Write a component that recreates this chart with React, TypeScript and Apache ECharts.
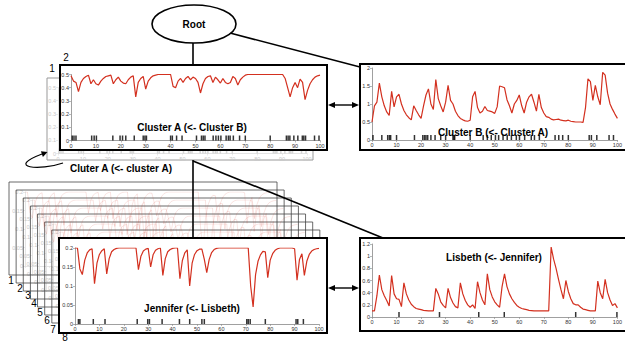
import React, { useEffect, useRef } from 'react';
import * as echarts from 'echarts';

// ---- data (x = 0..100, one value per step) ----
const clusterA = [
  0.49, 0.45, 0.44, 0.37, 0.44, 0.47, 0.485, 0.495, 0.43, 0.46,
  0.43, 0.42, 0.45, 0.47, 0.485, 0.49, 0.495, 0.43, 0.46, 0.48,
  0.45, 0.435, 0.43, 0.46, 0.48, 0.49, 0.33, 0.44, 0.47, 0.485,
  0.39, 0.45, 0.475, 0.49, 0.495, 0.5, 0.5, 0.5, 0.5, 0.5,
  0.5, 0.41, 0.40, 0.45, 0.47, 0.44, 0.47, 0.485, 0.46, 0.48,
  0.47, 0.44, 0.36, 0.43, 0.47, 0.485, 0.49, 0.44, 0.48, 0.46,
  0.435, 0.47, 0.44, 0.43, 0.44, 0.485, 0.47, 0.42, 0.46, 0.48,
  0.495, 0.5, 0.5, 0.5, 0.5, 0.5, 0.5, 0.5, 0.5, 0.5,
  0.5, 0.5, 0.5, 0.5, 0.5, 0.5, 0.47, 0.40, 0.33, 0.40,
  0.44, 0.40, 0.465, 0.44, 0.31, 0.38, 0.43, 0.46, 0.48, 0.49,
  0.495,
];
const clusterB = [
  0.5, 0.95, 1.05, 1.58, 1.2, 0.95, 0.78, 0.68, 1.35, 0.92,
  1.2, 1.27, 1.0, 0.82, 0.7, 0.62, 0.56, 0.95, 0.82, 0.7,
  0.6, 0.95, 1.25, 1.42, 1.0, 0.85, 1.68, 1.15, 0.95, 0.78,
  1.05, 1.52, 1.1, 1.0, 0.8, 0.68, 0.6, 0.56, 0.53, 0.52,
  0.55, 1.2, 1.35, 0.9, 0.75, 0.8, 0.93, 0.82, 0.8, 0.78,
  0.74, 0.92, 1.5, 1.48, 1.45, 1.12, 0.95, 0.75, 1.0, 1.1,
  1.25, 0.95, 0.75, 1.05, 1.2, 1.27, 1.05, 0.8, 1.27, 0.9,
  0.75, 0.65, 0.63, 0.58, 0.56, 0.57, 0.58, 0.55, 0.54, 0.53,
  0.55, 0.52, 0.51, 0.5, 0.5, 0.5, 0.49, 0.9, 1.7, 1.62,
  1.1, 1.52, 1.2, 0.98, 1.88, 1.8, 1.3, 1.0, 0.85, 0.72,
  0.6,
];
const jennifer = [
  0.2, 0.2, 0.145, 0.13, 0.168, 0.187, 0.195, 0.198, 0.106, 0.16,
  0.183, 0.193, 0.198, 0.132, 0.172, 0.19, 0.196, 0.199, 0.2, 0.2,
  0.2, 0.2, 0.2, 0.2, 0.2, 0.2, 0.143, 0.178, 0.192, 0.197,
  0.199, 0.15, 0.182, 0.194, 0.198, 0.2, 0.128, 0.172, 0.19, 0.196,
  0.199, 0.2, 0.2, 0.119, 0.167, 0.187, 0.195, 0.1, 0.16, 0.183,
  0.193, 0.197, 0.197, 0.17, 0.135, 0.17, 0.188, 0.196, 0.199, 0.2,
  0.2, 0.2, 0.2, 0.2, 0.2, 0.2, 0.2, 0.2, 0.2, 0.2,
  0.2, 0.2, 0.1, 0.045, 0.13, 0.165, 0.182, 0.191, 0.19, 0.122,
  0.168, 0.185, 0.194, 0.198, 0.2, 0.2, 0.2, 0.2, 0.2, 0.2,
  0.198, 0.115, 0.17, 0.185, 0.128, 0.165, 0.183, 0.192, 0.196, 0.198,
  0.199,
];
const lisbeth = [
  0.1, 0.1, 0.35, 0.69, 0.45, 0.35, 0.27, 0.18, 0.68, 0.38,
  0.3, 0.29, 0.17, 0.56, 0.38, 0.28, 0.21, 0.17, 0.14, 0.13,
  0.12, 0.11, 0.105, 0.1, 0.1, 0.1, 0.47, 0.38, 0.25, 0.19,
  0.15, 0.47, 0.32, 0.23, 0.17, 0.15, 0.56, 0.38, 0.27, 0.2,
  0.16, 0.2, 0.14, 0.58, 0.4, 0.28, 0.2, 0.71, 0.45, 0.33,
  0.25, 0.2, 0.16, 0.5, 0.71, 0.5, 0.38, 0.3, 0.24, 0.19,
  0.16, 0.14, 0.13, 0.12, 0.11, 0.105, 0.1, 0.1, 0.1, 0.1,
  0.1, 0.1, 0.1, 1.15, 0.95, 0.8, 0.62, 0.45, 0.3, 0.6,
  0.42, 0.3, 0.22, 0.2, 0.2, 0.16, 0.13, 0.12, 0.11, 0.1,
  0.1, 0.1, 0.59, 0.4, 0.3, 0.62, 0.4, 0.28, 0.19, 0.22,
  0.15,
];
const eventsA = [0.5, 1.2, 2, 8.3, 9.3, 10.2, 16.8, 19.7, 20.7, 22, 25.4, 29, 29.7, 30.3, 40, 40.7, 42.4, 44.6, 50.4, 52.4, 53.1, 53.8, 57.1, 58.2, 59.2, 60.2, 62.3, 63.2, 63.9, 65.2, 67.7, 70, 80, 86.5, 87.2, 87.9, 89.5, 91.1, 92.9, 93.5, 94.2, 97.8, 99.6];
const eventsB = [0.4, 4, 6.4, 7.1, 7.6, 10, 17.3, 20.7, 21.4, 22, 22.7, 24, 25.7, 28, 30, 33, 33.4, 33.7, 40, 45.3, 47, 48.6, 50.3, 51.6, 53.4, 55.1, 56.8, 58.8, 60.1, 62.2, 64.9, 66.2, 68.2, 74.6, 76.1, 77.7, 80, 88.5, 89.4, 91.6, 96.6, 98.4];
const eventsJ = [1.4, 2, 7.5, 12.3, 25.5, 29.8, 30.5, 35.7, 42.8, 47, 52, 53, 70.4, 71, 71.8, 78, 90.6, 91.3, 93.6];
const eventsL = [11, 27.5, 43.5, 53.9, 83, 99.8];
const stackLabels = ['1', '2', '3', '4', '5', '6', '7', '8'];
const titles = ['Cluster A (<- Cluster B)', 'Cluster B (<- Cluster A)', 'Cluter A (<- cluster A)', 'Jennifer (<- Lisbeth)', 'Lisbeth (<- Jennifer)', 'Root'];

const RED = '#d3301f';
const FONT = '"Liberation Sans", Arial, Helvetica, sans-serif';

const pts = (v: number[]) => v.map((y, i) => [i, y]);
const rug = (e: number[]) => e.map((x) => [x, 0]);

export default function App() {
  const ref = useRef<HTMLDivElement>(null);
  useEffect(() => {
    const chart = echarts.init(ref.current!, null, { renderer: 'svg' });
    const grids: any[] = [];
    const xAxes: any[] = [];
    const yAxes: any[] = [];
    const series: any[] = [];
    const g: any[] = [];

    function addChart(o: any) {
      const gi = grids.length;
      const faint = !!o.faint;
      const axisColor = faint ? '#ddd' : '#888';
      const labelColor = faint ? '#c8c8c8' : '#333';
      const z = o.z;
      grids.push({ left: o.left, top: o.top, width: o.width, height: o.height, z });
      xAxes.push({
        type: 'value', gridIndex: gi, min: 0, max: 100, interval: 10, z,
        axisLine: { show: true, onZero: false, lineStyle: { color: axisColor, width: 0.8 } },
        axisTick: { show: true, length: 2, lineStyle: { color: axisColor, width: 0.6 } },
        axisLabel: { show: o.xLabels !== false, fontSize: 5.5, color: labelColor, margin: 2, fontFamily: FONT },
        splitLine: { show: false },
      });
      yAxes.push({
        type: 'value', gridIndex: gi, min: 0, max: o.yMax, interval: o.yInt, z,
        axisLine: { show: true, onZero: false, lineStyle: { color: axisColor, width: 0.8 } },
        axisTick: { show: true, length: 2, lineStyle: { color: axisColor, width: 0.6 } },
        axisLabel: { show: true, fontSize: 5.5, color: labelColor, margin: 2, fontFamily: FONT },
        splitLine: { show: false },
      });
      if (o.data) {
        series.push({
          type: 'line', xAxisIndex: gi, yAxisIndex: gi, data: pts(o.data), showSymbol: false,
          z: z + 1, silent: true,
          lineStyle: { color: RED, width: faint ? 0.8 : 1.2, opacity: faint ? 0.16 : 1 },
        });
      }
      if (o.events) {
        series.push({
          type: 'scatter', xAxisIndex: gi, yAxisIndex: gi, data: rug(o.events), symbol: 'rect',
          symbolSize: [1.5, 5], symbolOffset: [0, -2.5], z: z + 2, silent: true,
          itemStyle: { color: faint ? '#ccc' : '#000' },
        });
      }
    }

    // ghost Cluster A frame (behind)
    g.push({ type: 'rect', z: 0, shape: { x: 47, y: 78, width: 266, height: 82 }, style: { fill: '#fff', stroke: '#999', lineWidth: 1 } });
    addChart({ left: 58, top: 87.5, width: 249, height: 66, yMax: 0.5, yInt: 0.1, events: eventsA, faint: true, z: 1 });

    // ghost stack behind Jennifer
    for (let k = 0; k < 7; k++) {
      const L = 9 + k * 7.14;
      const T = 182 + k * 8;
      g.push({ type: 'rect', z: 2, shape: { x: L, y: T, width: 268, height: 93 }, style: { fill: 'none', stroke: '#444', lineWidth: 0.8 } });
      addChart({ left: L + 16, top: T + 10, width: 244, height: 74, yMax: 0.2, yInt: 0.05, data: jennifer, faint: true, xLabels: false, z: 1 });
    }

    // connecting lines
    const line = (x1: number, y1: number, x2: number, y2: number, w = 1.6) =>
      g.push({ type: 'line', z: 3, shape: { x1, y1, x2, y2 }, style: { stroke: '#000', lineWidth: w } });
    line(193, 43, 193, 65);
    line(230, 33, 360, 67);
    line(193, 160, 193, 238);
    line(193, 161, 383, 238);

    // double arrows
    const dbl = (y: number) => {
      line(333, y, 354, y, 1.4);
      g.push({ type: 'polygon', z: 3, shape: { points: [[328, y], [335, y - 3], [335, y + 3]] }, style: { fill: '#000' } });
      g.push({ type: 'polygon', z: 3, shape: { points: [[359, y], [352, y - 3], [352, y + 3]] }, style: { fill: '#000' } });
    };
    dbl(105);
    dbl(288);

    // curved self arrow
    g.push({ type: 'bezierCurve', z: 3, shape: { x1: 63, y1: 163, cpx1: 40, cpy1: 171, cpx2: 5, cpy2: 168, x2: 42, y2: 154 }, style: { stroke: '#000', lineWidth: 1.2, fill: 'none' } });
    g.push({ type: 'polygon', z: 3, shape: { points: [[47.5, 152], [42.9, 156.9], [40.9, 151.3]] }, style: { fill: '#000' } });

    // main frames
    const frame = (x: number, y: number, w: number, h: number) =>
      g.push({ type: 'rect', z: 4, shape: { x, y, width: w, height: h }, style: { fill: '#fff', stroke: '#000', lineWidth: 2 } });
    frame(60, 65, 267, 85);
    frame(360, 64, 275, 86);
    frame(59, 238, 268, 95);
    frame(360, 238, 275, 93);

    // main charts
    addChart({ left: 71, top: 74.5, width: 249, height: 66, yMax: 0.5, yInt: 0.1, data: clusterA, events: eventsA, z: 5 });
    addChart({ left: 372, top: 68, width: 246, height: 72, yMax: 2, yInt: 0.5, data: clusterB, events: eventsB, z: 5 });
    addChart({ left: 75, top: 248, width: 244, height: 76, yMax: 0.2, yInt: 0.05, data: jennifer, events: eventsJ, z: 5 });
    addChart({ left: 372, top: 244, width: 246, height: 73, yMax: 1.2, yInt: 0.2, data: lisbeth, events: eventsL, z: 5 });

    // Root node
    g.push({ type: 'ellipse', z: 5, shape: { cx: 194, cy: 24, rx: 42, ry: 19 }, style: { fill: '#fff', stroke: '#000', lineWidth: 1.6 } });

    const text = (t: string, x: number, y: number, bold = true, size = 10) =>
      g.push({
        type: 'text', z: 10, x, y,
        style: { text: t, fill: '#000', fontSize: size, fontWeight: bold ? 'bold' : 'normal', fontFamily: FONT, align: 'center', verticalAlign: 'middle' },
      });
    text(titles[5], 194, 24);
    text(titles[0], 192, 127);
    text(titles[1], 493, 132);
    text(titles[2], 121, 168);
    text(titles[3], 192, 308);
    text(titles[4], 494, 257);

    text('2', 66, 57, false);
    text('1', 52, 68, false);
    const stackPos = [[11, 280], [20, 288], [28, 295], [34, 303], [40, 312], [47, 320], [53, 329], [65, 337]];
    stackLabels.forEach((s, i) => text(s, stackPos[i][0], stackPos[i][1], false));

    chart.setOption({
      animation: false,
      textStyle: { fontFamily: FONT, color: '#333' },
      grid: grids,
      xAxis: xAxes,
      yAxis: yAxes,
      series,
      graphic: { elements: g },
    });
    return () => chart.dispose();
  }, []);
  return <div ref={ref} style={{ position: 'fixed', left: 0, top: 0, width: 625, height: 344, background: '#fff' }} />;
}
